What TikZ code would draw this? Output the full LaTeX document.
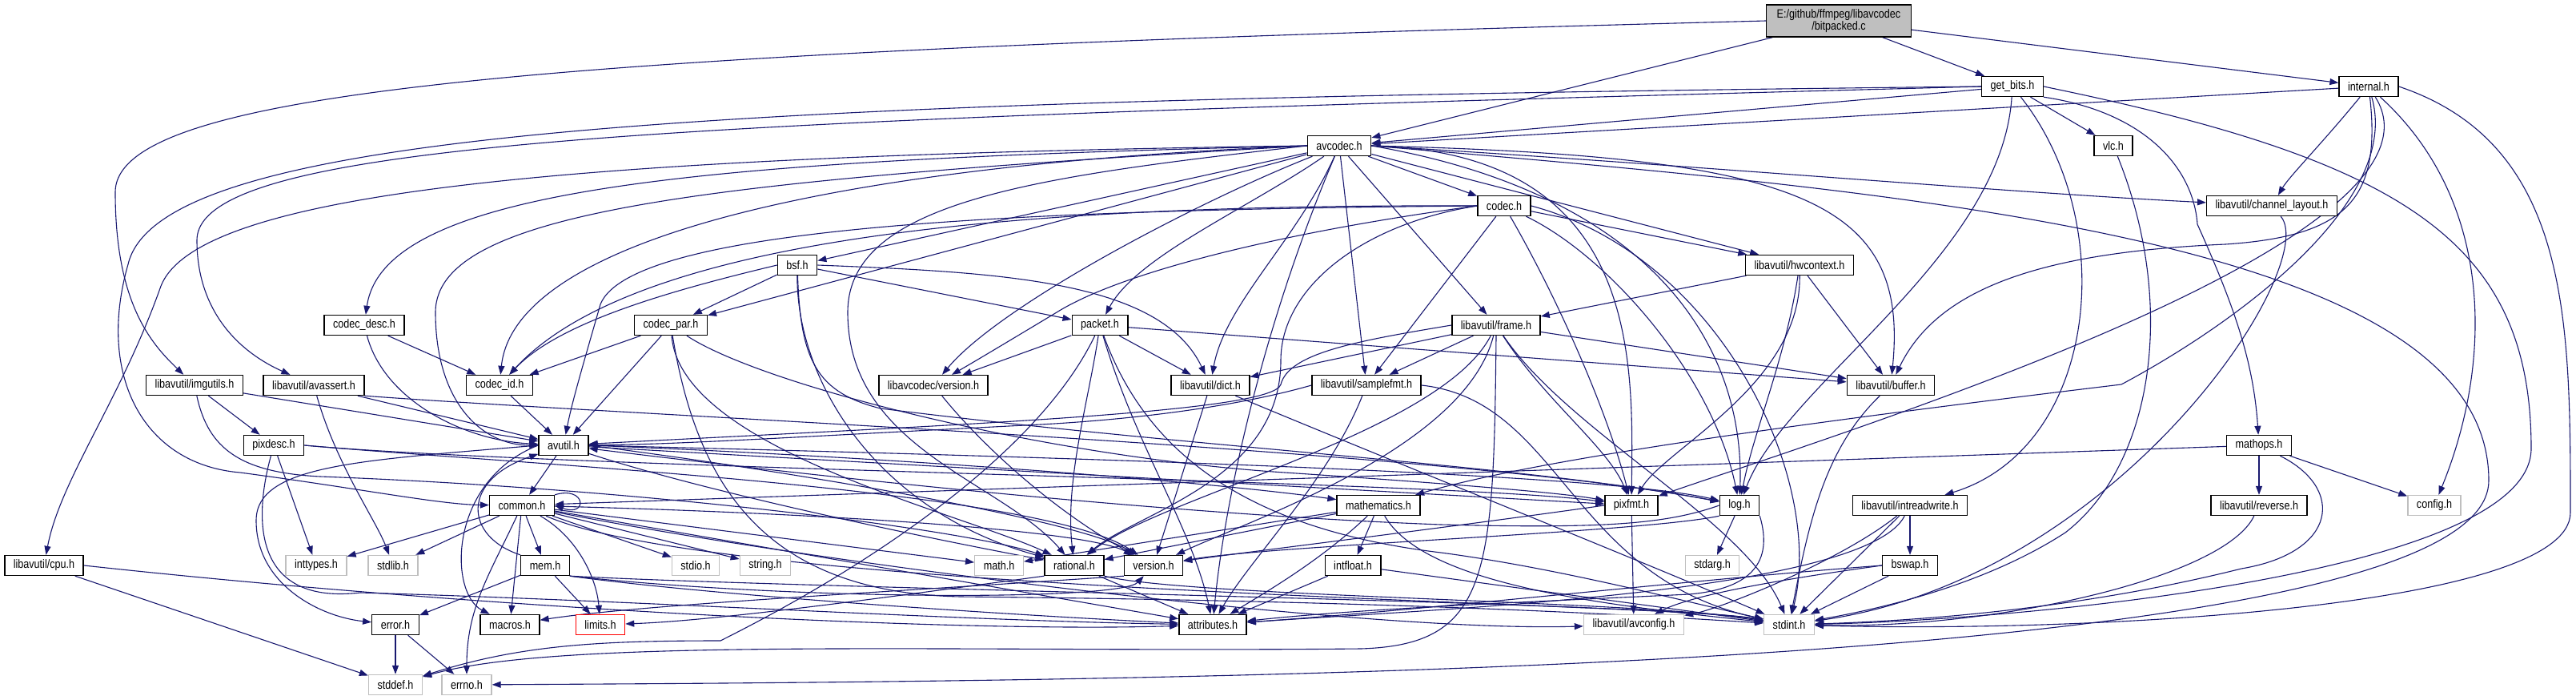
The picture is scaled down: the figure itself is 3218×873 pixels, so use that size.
\documentclass[tikz,border=0pt]{standalone}
\usepackage{fontspec}
\newfontfamily\dotfont[FakeStretch=0.84]{Liberation Sans}
\usetikzlibrary{arrows.meta,backgrounds}
\definecolor{edgeblue}{RGB}{25,25,112}
\definecolor{sysgray}{RGB}{191,191,191}

\begin{document}
\begin{tikzpicture}[x=1pt, y=-1pt,
  h/.style={draw=black, fill=white, line width=1.4pt, inner xsep=11pt, inner ysep=0pt, minimum height=25pt, font=\dotfont\fontsize{15}{14.5}\selectfont},
  s/.style={h, draw=sysgray},
  src/.style={h, fill=sysgray, minimum height=40pt, align=center, inner xsep=13pt},
  e/.style={-{Triangle[length=11pt,width=8pt]}, line width=1.1pt, edgeblue}
]
  \useasboundingbox (0,0) rectangle (3218,873);

  % rows of headers
  \node[src] (bitpacked) at (2297,26) {E:/github/ffmpeg/libavcodec\\/bitpacked.c};
  \node[h] (getbits) at (2514,108) {get\_bits.h};
  \node[h] (internal) at (2959,108) {internal.h};
  \node[h] (avcodec) at (1673,182) {avcodec.h};
  \node[h] (vlc) at (2640,182) {vlc.h};
  \node[h] (chlayout) at (2838,257) {libavutil/channel\_layout.h};
  \node[h] (codec) at (1879,257) {codec.h};
  \node[h] (bsf) at (996,331) {bsf.h};
  \node[h] (hwctx) at (2248,331) {libavutil/hwcontext.h};
  \node[h] (codecdesc) at (455,406) {codec\_desc.h};
  \node[h] (codecpar) at (838,406) {codec\_par.h};
  \node[h] (packet) at (1374,406) {packet.h};
  \node[h] (frame) at (1869,406) {libavutil/frame.h};
  \node[h] (imgutils) at (243,481) {libavutil/imgutils.h};
  \node[h] (avassert) at (392,481) {libavutil/avassert.h};
  \node[h] (codecid) at (624,481) {codec\_id.h};
  \node[h] (lavcver) at (1166,481) {libavcodec/version.h};
  \node[h] (dict) at (1512,481) {libavutil/dict.h};
  \node[h] (samplefmt) at (1707,481) {libavutil/samplefmt.h};
  \node[h] (buffer) at (2362,481) {libavutil/buffer.h};
  \node[h] (pixdesc) at (342,556) {pixdesc.h};
  \node[h] (avutil) at (704,556) {avutil.h};
  \node[h] (mathops) at (2822,556) {mathops.h};
  \node[h] (common) at (652,631) {common.h};
  \node[h] (mathem) at (1722,631) {mathematics.h};
  \node[h] (pixfmt) at (2038,631) {pixfmt.h};
  \node[h] (log) at (2173,631) {log.h};
  \node[h] (intrw) at (2386,631) {libavutil/intreadwrite.h};
  \node[h] (reverse) at (2822,631) {libavutil/reverse.h};
  \node[s] (config) at (3041,631) {config.h};
  \node[h] (cpu) at (55,706) {libavutil/cpu.h};
  \node[s] (inttypes) at (395,706) {inttypes.h};
  \node[s] (stdlib) at (491,706) {stdlib.h};
  \node[h] (mem) at (681,706) {mem.h};
  \node[s] (stdio) at (869,706) {stdio.h};
  \node[s] (string) at (956,706) {string.h};
  \node[s] (math) at (1248,706) {math.h};
  \node[h] (rational) at (1342,706) {rational.h};
  \node[h] (version) at (1441,706) {version.h};
  \node[h] (intfloat) at (1690,706) {intfloat.h};
  \node[s] (stdarg) at (2139,706) {stdarg.h};
  \node[h] (bswap) at (2386,706) {bswap.h};
  \node[h] (error) at (494,780) {error.h};
  \node[h] (macros) at (637,780) {macros.h};
  \node[s, draw=red] (limits) at (750,780) {limits.h};
  \node[h] (attributes) at (1515,780) {attributes.h};
  \node[s] (avconfig) at (2041,780) {libavutil/avconfig.h};
  \node[s] (stdint) at (2235,780) {stdint.h};
  \node[s] (stddef) at (494,855) {stddef.h};
  \node[s] (errno) at (583,855) {errno.h};

  \begin{scope}[on background layer]
  \fill[white] (0,0) rectangle (3218,873);
  % bitpacked.c
  \draw[e] (bitpacked)--(avcodec); \draw[e] (bitpacked)--(getbits); \draw[e] (bitpacked)--(internal);
  \draw[e] (bitpacked.west) .. controls (700,65) and (144,110) .. (144,240) .. controls (144,380) and (190,430) .. (imgutils);
  % get_bits.h
  \draw[e] (getbits)--(avcodec); \draw[e] (getbits)--(vlc);
  \draw[e] (getbits.west) .. controls (900,150) and (246,170) .. (246,300) .. controls (246,390) and (300,440) .. (avassert);
  \draw[e] (getbits.west) .. controls (900,125) and (200,160) .. (160,330) .. controls (120,470) and (180,580) .. (300,590) .. controls (450,610) and (550,630) .. (common);
  \draw[e] (getbits) .. controls (2650,280) and (2620,560) .. (intrw);
  \draw[e] (getbits) .. controls (2500,320) and (2230,480) .. (log);
  \draw[e] (getbits.south east) .. controls (2680,140) and (2740,210) .. (2745,280) .. controls (2790,380) and (2815,450) .. (mathops);
  \draw[e] (getbits.east) .. controls (3000,200) and (3162,300) .. (3162,560) .. controls (3162,720) and (2500,775) .. (stdint);
  % internal.h
  \draw[e] (internal)--(avcodec);
  \draw[e] (internal) .. controls (2900,180) and (2860,220) .. (chlayout);
  \draw[e] (internal) .. controls (2975,250) and (2930,295) .. (2780,305) .. controls (2550,315) and (2420,360) .. (buffer);
  \draw[e] (internal) .. controls (3000,250) and (2800,400) .. (2650,480) .. controls (2150,540) and (1900,580) .. (mathem);
  \draw[e] (internal) .. controls (3080,300) and (2300,540) .. (pixfmt);
  \draw[e] (internal) .. controls (3115,250) and (3115,450) .. (config);
  \draw[e] (internal.east) .. controls (3211,180) and (3211,400) .. (3211,640) .. controls (3211,760) and (2600,790) .. (stdint);
  % avcodec.h
  \draw[e] (avcodec)--(codec); \draw[e] (avcodec)--(bsf); \draw[e] (avcodec)--(codecpar);
  \draw[e] (avcodec)--(samplefmt); \draw[e] (avcodec)--(frame); \draw[e] (avcodec)--(hwctx);
  \draw[e] (avcodec.west) .. controls (900,200) and (480,230) .. (codecdesc);
  \draw[e] (avcodec.west) .. controls (950,210) and (640,320) .. (codecid);
  \draw[e] (avcodec.west) .. controls (900,225) and (544,260) .. (544,390) .. controls (544,500) and (600,556) .. (avutil);
  \draw[e] (avcodec.west) .. controls (700,195) and (240,240) .. (200,360) .. controls (150,500) and (75,600) .. (cpu);
  \draw[e] (avcodec) .. controls (1580,400) and (1530,620) .. (attributes);
  \draw[e] (avcodec.east) .. controls (2250,195) and (2385,250) .. (buffer);
  \draw[e] (avcodec.east) .. controls (2100,205) and (2500,240) .. (chlayout);
  \draw[e] (avcodec) .. controls (1620,300) and (1530,380) .. (dict);
  \draw[e] (avcodec.east) .. controls (2050,240) and (2180,420) .. (log);
  \draw[e] (avcodec.east) .. controls (2050,190) and (2040,450) .. (pixfmt);
  \draw[e] (avcodec.west) .. controls (1300,220) and (1059,250) .. (1059,390) .. controls (1059,560) and (1250,600) .. (rational);
  \draw[e] (avcodec.east) .. controls (2400,240) and (3109,300) .. (3109,600) .. controls (3109,840) and (1500,850) .. (errno);
  \draw[e] (avcodec) .. controls (1560,260) and (1420,320) .. (packet);
  \draw[e] (avcodec) .. controls (1500,250) and (1250,380) .. (lavcver);
  % codec.h
  \draw[e] (codec)--(hwctx); \draw[e] (codec)--(samplefmt);
  \draw[e] (codec.west) .. controls (1300,255) and (800,290) .. (codecid);
  \draw[e] (codec.west) .. controls (1300,262) and (790,280) .. (750,380) .. controls (730,450) and (715,500) .. (avutil);
  \draw[e] (codec.west) .. controls (1600,290) and (1400,340) .. (1320,390) .. controls (1270,420) and (1220,450) .. (lavcver);
  \draw[e] (codec.west) .. controls (1700,280) and (1600,360) .. (1600,450) .. controls (1600,600) and (1420,640) .. (rational);
  \draw[e] (codec) .. controls (1950,380) and (2010,520) .. (pixfmt);
  \draw[e] (codec) .. controls (2010,320) and (2140,470) .. (log);
  \draw[e] (codec.east) .. controls (2150,320) and (2280,600) .. (stdint);
  % bsf.h
  \draw[e] (bsf)--(codecpar); \draw[e] (bsf)--(packet);
  \draw[e] (bsf.east) .. controls (1250,340) and (1450,350) .. (dict);
  \draw[e] (bsf.west) .. controls (850,360) and (700,400) .. (codecid);
  \draw[e] (bsf) .. controls (995,480) and (1100,640) .. (rational);
  \draw[e] (bsf) .. controls (1000,450) and (1020,490) .. (1100,510) .. controls (1500,560) and (1900,580) .. (log);
  % libavutil/hwcontext.h
  \draw[e] (hwctx)--(frame); \draw[e] (hwctx)--(buffer);
  \draw[e] (hwctx) .. controls (2230,450) and (2190,540) .. (log);
  \draw[e] (hwctx) .. controls (2250,480) and (2080,560) .. (pixfmt);
  % codec_desc.h, codec_par.h, codec_id.h
  \draw[e] (codecdesc)--(codecid);
  \draw[e] (codecdesc) .. controls (480,500) and (580,550) .. (avutil);
  \draw[e] (codecpar)--(codecid); \draw[e] (codecpar)--(avutil);
  \draw[e] (codecpar) .. controls (870,600) and (950,740) .. (1200,745) .. controls (1700,750) and (2000,765) .. (stdint);
  \draw[e] (codecpar) .. controls (850,560) and (1200,640) .. (rational);
  \draw[e] (codecpar) .. controls (950,480) and (1300,570) .. (1605,590) .. controls (1800,603) and (1950,615) .. (pixfmt);
  \draw[e] (codecid)--(avutil);
  % packet.h
  \draw[e] (packet)--(lavcver); \draw[e] (packet)--(dict); \draw[e] (packet)--(buffer);
  \draw[e] (packet) .. controls (1300,560) and (1100,700) .. (900,800) .. controls (750,800) and (650,805) .. (stddef);
  \draw[e] (packet) .. controls (1360,500) and (1330,600) .. (rational);
  \draw[e] (packet) .. controls (1420,560) and (1490,660) .. (attributes);
  \draw[e] (packet) .. controls (1430,560) and (1550,660) .. (1800,690) .. controls (1950,710) and (2100,750) .. (stdint);
  \draw[e] (lavcver) .. controls (1230,560) and (1320,640) .. (version);
  \draw[e] (dict)--(version);
  \draw[e] (dict) .. controls (1700,560) and (2050,700) .. (stdint);
  % libavutil/frame.h
  \draw[e] (frame)--(samplefmt); \draw[e] (frame)--(buffer); \draw[e] (frame)--(dict);
  \draw[e] (frame.west) .. controls (1700,425) and (1610,440) .. (1600,480) .. controls (1590,515) and (1200,530) .. (avutil);
  \draw[e] (frame) .. controls (1800,540) and (1450,620) .. (rational);
  \draw[e] (frame) .. controls (1930,500) and (2010,560) .. (pixfmt);
  \draw[e] (frame) .. controls (1830,560) and (1560,650) .. (version);
  \draw[e] (frame) .. controls (1960,540) and (2180,650) .. (stdint);
  \draw[e] (frame.south) .. controls (1866,720) and (1860,805) .. (1700,810) .. controls (1200,815) and (700,795) .. (stddef);
  % libavutil/samplefmt.h, buffer.h, channel_layout.h, vlc.h
  \draw[e] (samplefmt.west) .. controls (1590,495) and (1480,520) .. (1300,530) .. controls (1000,545) and (850,555) .. (avutil);
  \draw[e] (samplefmt) .. controls (1660,600) and (1560,700) .. (attributes);
  \draw[e] (samplefmt.east) .. controls (1950,500) and (1960,720) .. (stdint);
  \draw[e] (buffer) .. controls (2280,560) and (2260,650) .. (stdint);
  \draw[e] (chlayout) .. controls (2900,330) and (2650,720) .. (stdint);
  \draw[e] (vlc) .. controls (2720,380) and (2690,580) .. (2580,665) .. controls (2480,730) and (2350,760) .. (stdint);
  % libavutil/imgutils.h, avassert.h, pixdesc.h
  \draw[e] (imgutils)--(pixdesc); \draw[e] (imgutils)--(avutil);
  \draw[e] (imgutils) .. controls (260,560) and (300,590) .. (400,595) .. controls (800,610) and (1200,660) .. (rational);
  \draw[e] (avassert)--(avutil);
  \draw[e] (avassert.south east) .. controls (800,520) and (1800,560) .. (log);
  \draw[e] (avassert) .. controls (420,580) and (470,650) .. (stdlib);
  \draw[e] (pixdesc)--(inttypes);
  \draw[e] (pixdesc.east) .. controls (700,585) and (1800,600) .. (pixfmt);
  \draw[e] (pixdesc.east) .. controls (650,580) and (1300,610) .. (version);
  \draw[e] (pixdesc) .. controls (315,655) and (320,755) .. (450,740) .. controls (800,750) and (1200,775) .. (attributes);
  % avutil.h
  \draw[e] (avutil)--(common); \draw[e] (avutil)--(pixfmt);
  \draw[e] (avutil.west) .. controls (450,575) and (320,580) .. (320,650) .. controls (320,730) and (400,770) .. (error);
  \draw[e] (avutil) .. controls (900,620) and (1200,680) .. (rational);
  \draw[e] (avutil.east) .. controls (1000,590) and (1350,650) .. (version);
  \draw[e] (avutil.west) .. controls (560,600) and (560,740) .. (macros);
  \draw[e] (avutil.east) .. controls (1100,570) and (1500,600) .. (mathem);
  \draw[e] (avutil.east) .. controls (1300,570) and (2000,590) .. (log);
  % common.h
  \draw[e] (common)--(inttypes); \draw[e] (common)--(stdlib); \draw[e] (common)--(macros);
  \draw[e] (common)--(mem); \draw[e] (common)--(stdio); \draw[e] (common)--(string);
  \draw[e] (common)--(math); \draw[e] (common)--(attributes);
  \draw[e] (common) .. controls (610,720) and (583,760) .. (errno);
  \draw[e] (common) .. controls (720,670) and (745,720) .. (limits);
  \draw[e] (common) .. controls (1000,640) and (1350,660) .. (version);
  \draw[e] (common) .. controls (1000,700) and (1700,790) .. (avconfig);
  \draw[e] (common) .. controls (900,740) and (2080,752) .. (stdint);
  \draw[e] (common.north east) .. controls (732,606) and (735,646) .. (common.east);
  % mem.h
  \draw[e] (mem)--(error); \draw[e] (mem)--(limits);
  \draw[e] (mem.north west) .. controls (580,670) and (575,600) .. (avutil);
  \draw[e] (mem.south east) .. controls (900,745) and (1300,770) .. (attributes);
  \draw[e] (mem.south east) .. controls (1000,735) and (2080,752) .. (stdint);
  \draw[e] (mem.south east) .. controls (1000,750) and (1400,750) .. (version);
  \draw[e] (error)--(errno); \draw[e] (error)--(stddef);
  % rational.h, version.h
  \draw[e] (rational)--(attributes);
  \draw[e] (rational.south west) .. controls (1150,740) and (900,775) .. (limits);
  \draw[e] (rational.south east) .. controls (1480,745) and (2050,750) .. (stdint);
  \draw[e] (version.south west) .. controls (1100,740) and (800,755) .. (macros);
  % mathematics.h, intfloat.h
  \draw[e] (mathem)--(intfloat); \draw[e] (mathem)--(math); \draw[e] (mathem)--(rational);
  \draw[e] (mathem) .. controls (1650,700) and (1580,740) .. (attributes);
  \draw[e] (mathem) .. controls (1780,730) and (2000,755) .. (stdint);
  \draw[e] (intfloat)--(attributes); \draw[e] (intfloat)--(stdint);
  % pixfmt.h, log.h
  \draw[e] (pixfmt)--(avconfig);
  \draw[e] (pixfmt.west) .. controls (1800,660) and (1550,690) .. (version);
  \draw[e] (log)--(stdarg);
  \draw[e] (log.west) .. controls (2080,655) and (2000,660) .. (1800,655) .. controls (1400,640) and (900,580) .. (avutil);
  \draw[e] (log.south west) .. controls (2050,665) and (1600,680) .. (version);
  \draw[e] (log.south east) .. controls (2215,700) and (2190,735) .. (2110,742) .. controls (1900,752) and (1700,760) .. (attributes);
  % intreadwrite.h, bswap.h
  \draw[e] (intrw)--(bswap); \draw[e] (intrw)--(stdint);
  \draw[e] (intrw) .. controls (2300,700) and (2150,760) .. (avconfig);
  \draw[e] (intrw) .. controls (2330,740) and (1800,760) .. (attributes);
  \draw[e] (bswap)--(stdint);
  \draw[e] (bswap.west) .. controls (2250,720) and (2120,740) .. (avconfig);
  \draw[e] (bswap.west) .. controls (2100,725) and (1800,760) .. (attributes);
  % mathops.h, reverse.h
  \draw[e] (mathops)--(reverse); \draw[e] (mathops)--(config); \draw[e] (mathops)--(common);
  \draw[e] (mathops) .. controls (2930,610) and (2920,690) .. (2800,710) .. controls (2600,760) and (2400,775) .. (stdint);
  \draw[e] (reverse) .. controls (2780,720) and (2500,785) .. (stdint);
  % libavutil/cpu.h
  \draw[e] (cpu)--(stddef);
  \draw[e] (cpu.east) .. controls (600,760) and (1200,790) .. (attributes);
  \end{scope}
\end{tikzpicture}
\end{document}
